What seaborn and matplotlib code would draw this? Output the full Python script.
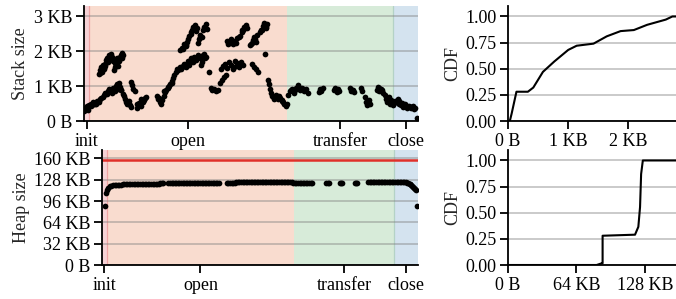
import matplotlib
matplotlib.use("Agg")
import matplotlib.pyplot as plt
import pandas as pd
import seaborn as sns
from matplotlib.ticker import FuncFormatter


PHASES = ["init", "open", "transfer", "close"]
PHASE_EDGES = [0.0, 1.5, 60.8, 92.5, 100.0]
PHASE_COLORS = ["#f6d2d6", "#f9dccf", "#d7ebd9", "#d4e3ef"]

# stack size over the run (time in % of trace, size in KB)
stack_t = [
    0.0, 0.4, 0.8, 1.2, 1.6, 2.0, 2.4, 2.8, 3.2, 3.6, 4.0, 4.4, 4.8,
    5.2, 5.6, 6.0, 6.4, 6.8, 7.2, 7.6,
    4.4, 4.7, 5.0, 5.3, 5.6, 5.9, 6.2, 6.6, 7.0, 7.3, 7.6, 7.9, 8.2, 8.5,
    9.0, 9.3, 9.6, 9.9, 10.2, 10.5, 10.8, 11.1, 11.4, 11.7,
    8.0, 8.4, 8.8, 9.2, 9.6, 10.0, 10.4, 10.8, 11.2, 11.6, 12.0,
    12.2, 12.6, 13.0, 13.4, 13.8, 14.2,
    14.0, 14.4, 14.8, 15.2,
    15.8, 16.2, 16.6, 17.0, 17.4, 17.8, 18.2, 18.6,
    21.8, 22.2, 22.6, 23.0, 23.4,
    23.8, 24.2, 24.6, 25.0, 25.4, 25.8, 26.2, 26.6,
    27.0, 27.4, 27.8, 28.2, 28.6,
    29.0, 29.5, 30.0, 30.5, 31.0, 31.5, 32.0, 32.5, 33.0, 33.5, 34.0, 35.0, 35.5, 36.0, 36.5,
    28.8, 29.2, 29.6, 30.0, 30.4, 30.8, 31.2,
    31.5, 31.9, 32.3, 32.7, 33.1, 33.5,
    34.0, 34.4, 34.8, 35.2, 35.6, 36.0, 36.4, 36.8,
    37.3, 38.0, 38.4, 38.8, 39.4,
    40.2, 40.8, 41.4, 42.0, 42.6,
    41.0, 41.6, 42.2, 42.8, 43.4, 44.0, 44.6, 45.2, 45.8, 46.4, 47.0, 47.6,
    42.8, 43.4, 44.0, 44.6, 45.2, 45.8, 46.4,
    46.8, 47.2, 47.6, 48.0, 48.4, 48.8,
    49.8, 50.2, 50.6, 51.0, 51.4, 51.8,
    50.4, 51.0, 51.6, 52.2,
    52.8, 53.2, 53.6, 54.0, 54.4, 54.8,
    54.2, 55.0, 55.3, 55.6,
    56.0, 56.4, 56.8, 57.2, 57.6, 58.0, 58.4, 58.8, 59.2, 59.6, 60.0, 60.4, 60.8,
    61.2, 61.8, 62.4, 63.0, 63.6, 64.2, 64.8, 65.4, 66.0, 66.6, 67.2,
    70.2, 70.6, 71.0, 71.4,
    74.8, 75.2, 75.6, 76.0, 76.4,
    79.6, 80.0, 80.4, 80.8,
    83.0, 83.3,
    84.0, 84.4, 84.8, 85.2, 85.6,
    87.6, 88.0, 88.4, 88.8, 89.2, 89.6, 90.0,
    90.4, 90.8, 91.2, 91.6, 92.0, 92.4, 92.8, 93.2,
    93.6, 94.0, 94.4, 94.8, 95.2, 95.6, 96.0, 96.4, 96.8, 97.2, 97.6, 98.0, 98.4, 98.8, 99.2,
    99.7,
    # extra samples filling out the dense clumps
    1.0, 2.2, 3.4, 5.4, 6.2, 7.0, 4.9, 6.0, 7.7, 8.8, 9.4, 10.0, 10.6, 11.3,
    9.0, 10.2, 11.0, 13.2, 16.0, 17.2, 18.0, 22.4, 24.0, 25.2, 26.4,
    29.4, 30.2, 31.8, 32.2, 33.2, 34.6, 35.4, 36.2, 30.6, 32.0, 33.8, 34.8,
    43.0, 44.2, 45.4, 47.4, 48.2, 50.0, 51.2, 53.0, 54.6, 42.0, 44.8, 46.0,
    57.0, 58.2, 59.4, 62.0, 63.3, 64.6, 65.8, 70.8, 75.4, 80.2, 88.2, 89.0,
    91.0, 92.2, 94.2, 95.4, 96.6, 97.8,
]
stack_kb = [
    0.28, 0.36, 0.42, 0.33, 0.45, 0.50, 0.46, 0.55, 0.52, 0.48, 0.58, 0.55, 0.62,
    0.66, 0.70, 0.74, 0.80, 0.78, 0.86, 0.92,
    1.35, 1.45, 1.55, 1.42, 1.60, 1.52, 1.65, 1.75, 1.82, 1.70, 1.88, 1.78, 1.92, 1.85,
    1.45, 1.55, 1.62, 1.70, 1.58, 1.78, 1.85, 1.90, 1.95, 1.88,
    0.88, 0.80, 0.95, 0.85, 1.00, 1.05, 1.10, 0.98, 0.90, 0.78, 0.72,
    0.62, 0.55, 0.50, 0.58, 0.45, 0.40,
    1.12, 1.02, 0.92, 0.86,
    0.38, 0.45, 0.52, 0.42, 0.58, 0.55, 0.65, 0.70,
    0.72, 0.62, 0.55, 0.50, 0.60,
    0.72, 0.82, 0.90, 0.95, 1.00, 1.05, 1.15, 1.22,
    1.32, 1.40, 1.48, 1.45, 1.55,
    1.50, 1.58, 1.65, 1.55, 1.72, 1.62, 1.80, 1.70, 1.85, 1.75, 1.90, 1.62, 1.88, 1.92, 1.85,
    2.05, 2.10, 2.08, 2.20, 2.15, 2.28, 2.35,
    2.45, 2.55, 2.62, 2.70, 2.75, 2.58,
    2.25, 2.35, 2.48, 2.40, 2.60, 2.70, 2.78, 2.65,
    1.40, 0.95, 0.88, 0.92, 0.85,
    0.90, 1.10, 1.18, 1.25, 1.32,
    1.50, 1.58, 1.65, 1.52, 1.70, 1.62, 1.48, 1.72, 1.66, 1.55, 1.70, 1.60,
    2.30, 2.25, 2.35, 2.20, 2.30, 2.38, 2.42,
    2.45, 2.55, 2.62, 2.70, 2.75, 2.68,
    2.18, 2.25, 2.32, 2.40, 2.28, 2.48,
    1.65, 1.55, 1.48, 1.42,
    2.55, 2.62, 2.72, 2.80, 2.68, 2.78,
    1.92, 1.18, 1.05, 0.92,
    0.80, 0.72, 0.62, 0.70, 0.75, 0.68, 0.72, 0.65, 0.60, 0.55, 0.48, 0.42, 0.50,
    0.75, 0.85, 0.92, 0.80, 0.95, 1.02, 0.88, 0.95, 0.85, 0.92, 0.80,
    0.82, 0.92, 0.86, 0.95,
    0.88, 0.96, 0.82, 0.92, 0.86,
    0.95, 0.85, 0.90, 0.82,
    0.95, 0.85,
    0.70, 0.55, 0.45, 0.60, 0.50,
    0.90, 0.98, 0.85, 0.92, 0.88, 0.80, 0.75,
    0.62, 0.55, 0.70, 0.48, 0.60, 0.45, 0.52, 0.58,
    0.55, 0.62, 0.50, 0.45, 0.52, 0.40, 0.48, 0.42, 0.38, 0.44, 0.40, 0.36, 0.42, 0.35, 0.38,
    0.08,
    0.40, 0.42, 0.50, 1.50, 1.58, 1.70, 1.38, 1.48, 1.80, 1.72, 1.66, 1.82, 1.72, 1.80,
    0.92, 0.92, 0.88, 0.52, 0.48, 0.62, 0.60, 0.66, 0.85, 0.98, 1.10,
    1.55, 1.60, 1.68, 1.78, 1.80, 1.82, 1.70, 1.80, 2.18, 2.50, 2.66, 2.42,
    2.22, 2.28, 2.25, 2.62, 2.66, 2.22, 2.36, 2.62, 2.70, 1.58, 1.56, 1.62,
    0.66, 0.62, 0.58, 0.88, 0.88, 0.94, 0.90, 0.88, 0.90, 0.88, 0.95, 0.85,
    0.60, 0.52, 0.58, 0.46, 0.44, 0.40,
]

# heap size over the run
heap_t = [
    0.9, 1.3, 1.6, 2.0, 2.5, 3.0, 3.5, 4.0, 4.5, 5.0, 5.5, 6.0, 6.5, 7.0, 7.5, 8.0,
    8.5, 9.0, 9.5, 10.0, 10.5, 11.0, 11.5, 12.0, 12.5, 13.0, 13.5, 14.0, 14.5, 15.0,
    15.5, 16.0, 16.5, 17.0, 17.5, 18.0, 18.5, 19.0, 19.3,
    21.0, 21.5, 22.0, 22.5, 23.0, 23.5, 24.0, 24.5, 25.0, 25.5, 26.0, 26.5, 27.0,
    27.5, 28.0, 28.5, 29.0, 29.5, 30.0, 30.5, 31.0, 31.5, 32.0, 32.5, 33.0, 33.5,
    34.0, 34.5, 35.0, 35.5, 36.0, 36.5, 37.0,
    39.5, 40.0, 40.5, 41.0, 41.5, 42.0, 42.5, 43.0, 43.5, 44.0, 44.5, 45.0, 45.5,
    46.0, 46.5, 47.0, 47.5, 48.0, 48.5, 49.0, 49.5, 50.0, 50.5, 51.0, 51.5, 52.0,
    52.5, 53.0, 53.5, 54.0, 54.5, 55.0, 55.5, 56.0, 56.5, 57.0, 57.5, 58.0, 58.5,
    59.0, 59.5, 60.0, 60.5, 61.0, 61.5, 62.0, 62.5, 63.0, 63.5, 64.0, 64.5, 65.0,
    65.5, 66.0, 66.3,
    71.0, 71.5, 71.8, 75.2, 75.6, 76.0, 80.0, 80.4, 80.8,
    84.2, 84.7, 85.2, 85.7, 86.2, 86.7, 87.2, 87.7, 88.2, 88.7, 89.2, 89.7, 90.2,
    90.7, 91.2, 91.7, 92.2, 92.7, 93.2, 93.7, 94.2, 94.7, 95.2, 95.7, 96.2,
    96.6, 96.9, 97.3, 97.6, 97.9, 98.2, 98.5, 98.8, 99.0, 99.2, 99.6,
]
heap_kb = [
    88.0, 108.0, 113.0, 116.0, 118.0, 119.0, 120.0, 120.0, 120.5, 120.5, 120.5, 120.5, 121.0, 121.0, 121.0, 121.0,
    121.0, 121.0, 121.0, 121.5, 121.5, 121.5, 121.5, 121.5, 121.5, 121.5, 121.5, 122.0, 122.0, 122.0,
    122.0, 122.0, 122.0, 122.0, 122.0, 122.0, 122.5, 122.5, 122.5,
    122.5, 122.5, 122.5, 122.5, 122.5, 123.0, 123.0, 123.0, 123.0, 123.0, 123.0, 123.0, 123.0,
    123.0, 123.0, 123.0, 123.0, 123.0, 123.5, 123.5, 123.5, 123.5, 123.5, 123.5, 123.5, 123.5,
    123.5, 123.5, 123.5, 123.5, 123.5, 123.5, 123.5,
    123.5, 123.5, 123.5, 123.5, 123.5, 123.5, 124.0, 124.0, 124.0, 124.0, 124.0, 124.0, 124.0,
    124.0, 124.0, 124.0, 124.5, 124.5, 124.5, 124.5, 124.5, 124.5, 125.0, 125.0, 125.0, 125.0,
    125.0, 125.0, 125.0, 125.0, 125.0, 125.0, 124.5, 124.5, 124.5, 124.5, 124.0, 124.0, 124.0,
    124.0, 124.0, 124.0, 123.5, 123.5, 123.5, 123.5, 123.5, 123.5, 123.5, 123.5, 123.5, 123.5,
    123.5, 123.5, 123.5,
    123.5, 123.5, 123.5, 123.5, 123.5, 123.5, 123.5, 123.5, 123.5,
    124.0, 124.0, 124.0, 124.0, 124.0, 124.0, 124.0, 124.0, 124.0, 124.0, 124.0, 124.0, 124.0,
    124.0, 124.0, 124.0, 124.0, 124.0, 124.0, 124.0, 124.0, 124.0, 124.0, 124.0, 124.0,
    123.5, 123.0, 122.0, 121.0, 120.0, 118.5, 117.0, 115.5, 114.5, 113.0, 88.0,
]
HEAP_LIMIT_KB = 157

stack_cdf_kb = [0.0, 0.03, 0.06, 0.14, 0.33, 0.42, 0.58, 0.77, 1.0, 1.14, 1.42, 1.64, 1.87, 2.09, 2.31, 2.62, 2.73, 2.79]
stack_cdf = [0.0, 0.0, 0.07, 0.28, 0.28, 0.32, 0.47, 0.57, 0.68, 0.72, 0.74, 0.81, 0.86, 0.87, 0.92, 0.97, 1.0, 1.0]
heap_cdf_kb = [0.0, 82.8, 87.5, 88.4, 88.4, 118.7, 121.8, 123.4, 124.4, 126.0, 157.0]
heap_cdf = [0.0, 0.0, 0.016, 0.016, 0.28, 0.29, 0.365, 0.555, 0.87, 1.0, 1.0]


def size_label(kb, _pos=None):
    return "0 B" if kb == 0 else f"{kb:g} KB"


def style_axes(ax):
    sns.despine(ax=ax)
    for side in ("left", "bottom"):
        ax.spines[side].set_linewidth(1.3)
        ax.spines[side].set_color("black")
    ax.tick_params(length=5.5, width=1.3, pad=3, labelsize=13, colors="black")
    ax.yaxis.grid(True, color="gray", alpha=0.45, lw=1.3)
    ax.set_axisbelow(True)


def draw_phases(ax):
    for lo, hi, color in zip(PHASE_EDGES[:-1], PHASE_EDGES[1:], PHASE_COLORS):
        ax.axvspan(lo, hi, facecolor=color, edgecolor="none", zorder=0)
    ax.axvline(PHASE_EDGES[1], color="#f0a4a4", lw=0.9, zorder=0.2)
    ax.axvline(PHASE_EDGES[3], color="#b4d2c6", lw=0.9, zorder=0.2)
    mids = [(lo + hi) / 2 for lo, hi in zip(PHASE_EDGES[:-1], PHASE_EDGES[1:])]
    ax.set_xticks(mids)
    ax.set_xticklabels(PHASES)
    ax.set_xlim(PHASE_EDGES[0], PHASE_EDGES[-1])
    ax.set_xlabel("")


def main() -> None:
    sns.set_style("ticks")
    plt.rcParams["font.family"] = ["Liberation Serif", "DejaVu Serif"]
    plt.rcParams["axes.labelsize"] = 13

    stack = pd.DataFrame({"t": stack_t, "kb": stack_kb})
    heap = pd.DataFrame({"t": heap_t, "kb": heap_kb})
    scdf = pd.DataFrame({"kb": stack_cdf_kb, "cdf": stack_cdf})
    hcdf = pd.DataFrame({"kb": heap_cdf_kb, "cdf": heap_cdf})

    fig = plt.figure(figsize=(6.76, 2.99), dpi=100)
    ax_s = fig.add_axes([0.1243, 0.5953, 0.4941, 0.3846])
    ax_h = fig.add_axes([0.1509, 0.1137, 0.4675, 0.3846])
    ax_sc = fig.add_axes([0.7515, 0.5953, 0.2485, 0.3846])
    ax_hc = fig.add_axes([0.7515, 0.1137, 0.2485, 0.3846])

    # stack over time
    draw_phases(ax_s)
    sns.scatterplot(data=stack, x="t", y="kb", ax=ax_s, color="black", s=17, linewidth=0, zorder=3)
    ax_s.set_ylim(0, 3.3)
    ax_s.set_yticks([0, 1, 2, 3])
    ax_s.yaxis.set_major_formatter(FuncFormatter(size_label))
    ax_s.set_ylabel("Stack size", labelpad=3)
    ax_s.set_xlabel("")
    style_axes(ax_s)

    # heap over time
    draw_phases(ax_h)
    ax_h.axhline(HEAP_LIMIT_KB, color="#e0302a", lw=1.8, zorder=2)
    sns.scatterplot(data=heap, x="t", y="kb", ax=ax_h, color="black", s=17, linewidth=0, zorder=3)
    ax_h.set_ylim(0, HEAP_LIMIT_KB * 1.1)
    ax_h.set_yticks([0, 32, 64, 96, 128, 160])
    ax_h.yaxis.set_major_formatter(FuncFormatter(size_label))
    ax_h.set_ylabel("Heap size", labelpad=3)
    ax_h.set_xlabel("")
    style_axes(ax_h)

    # CDFs
    for ax, df, ticks in ((ax_sc, scdf, [0, 1, 2]), (ax_hc, hcdf, [0, 64, 128])):
        sns.lineplot(data=df, x="kb", y="cdf", ax=ax, color="black", lw=1.5,
                     sort=False, estimator=None, zorder=3)
        ax.set_xlim(0, df["kb"].max())
        ax.set_ylim(0, 1.1)
        ax.set_xticks(ticks)
        ax.xaxis.set_major_formatter(FuncFormatter(size_label))
        ax.set_yticks([0, 0.25, 0.5, 0.75, 1.0])
        ax.yaxis.set_major_formatter(FuncFormatter(lambda v, _p: f"{v:.2f}"))
        ax.set_ylabel("CDF", labelpad=3)
        ax.set_xlabel("")
        style_axes(ax)

    fig.savefig("out.png", dpi=100)
    plt.close(fig)


if __name__ == "__main__":
    main()
